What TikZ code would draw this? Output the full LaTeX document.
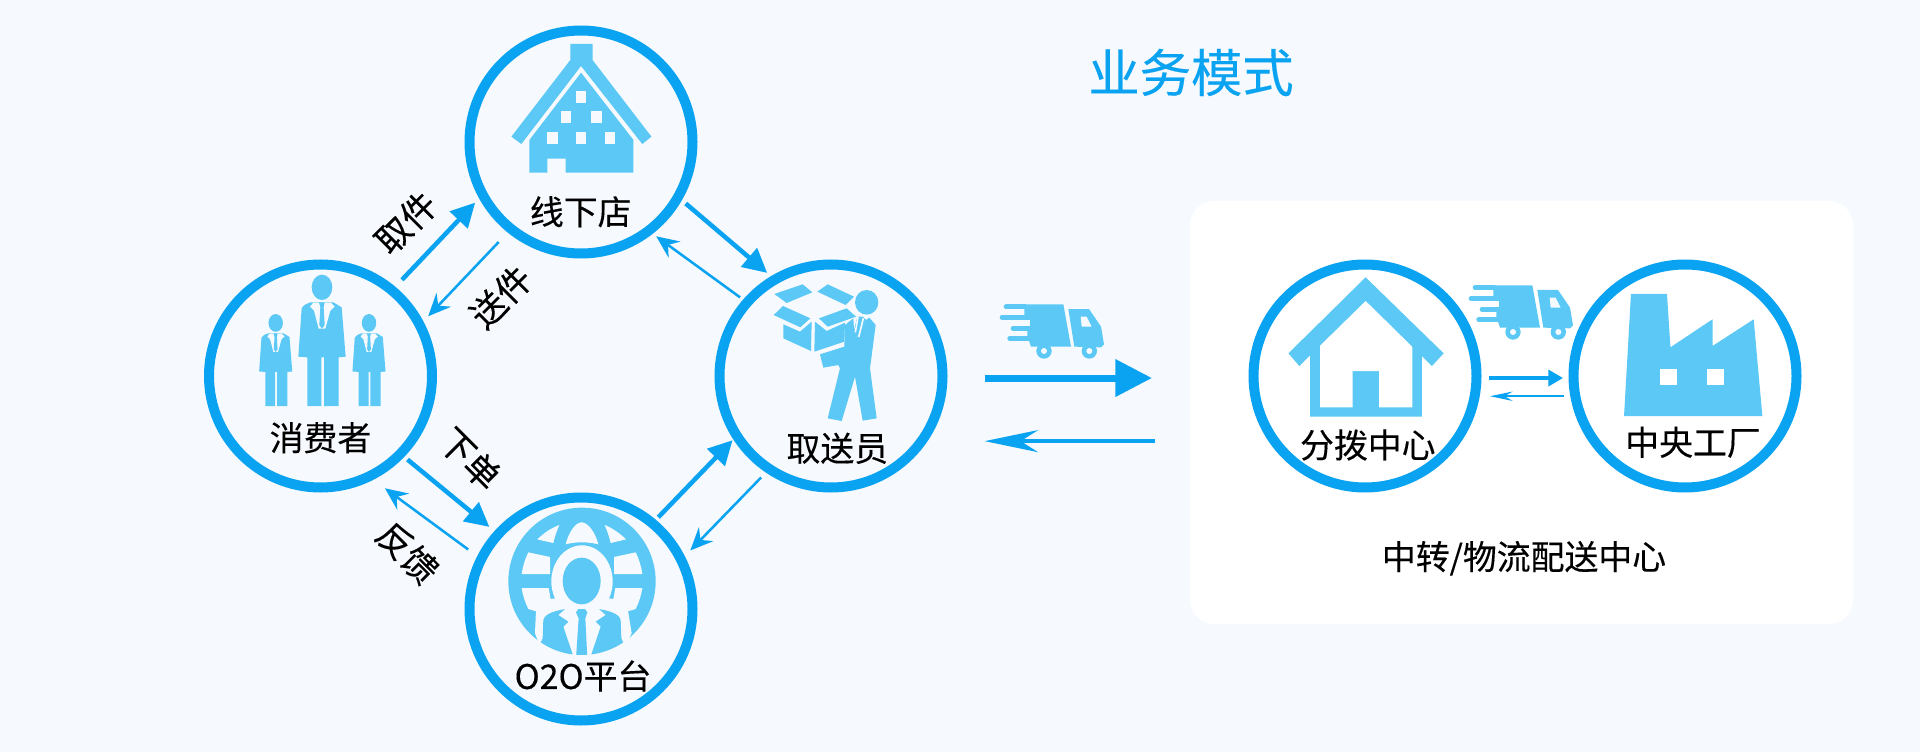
\documentclass[tikz,border=0pt]{standalone}
\usepackage{fontspec}
\setmainfont{Noto Sans CJK SC}[FakeBold=0.25]
\usetikzlibrary{arrows.meta}
\definecolor{bgc}{HTML}{F6FAFE}
\definecolor{ringc}{HTML}{0AA3F1}
\definecolor{iconc}{HTML}{5BC8F5}
\tikzset{
  ring/.style={circle,draw=ringc,line width=7.5pt,minimum size=167.25pt,inner sep=0pt,outer sep=3.75pt},
  lab/.style={font=\fontsize{25.4}{30}\selectfont,text=black,inner sep=0pt},
  rotlab/.style={font=\fontsize{26.2}{30}\selectfont,text=black,inner sep=0pt},
  thickarr/.style={draw=ringc,line width=3.4pt,-{Triangle[length=18pt,width=18pt,fill=ringc]}},
  thinarr/.style={draw=ringc,line width=1.9pt,-{Stealth[length=17pt,width=15pt,inset=6pt,fill=ringc]}},
}
\newcommand{\personicon}[3]{%
\begin{scope}[shift={(#1,#2)},x=#3pt,y=-#3pt,shift={(-216,-408)}]
  \fill[iconc] (216,52) ellipse [x radius=31,y radius=38];
  \fill[iconc] (155,115) .. controls (160,105) and (172,100) .. (182,97) -- (250,97) -- (275,112) -- (287,260) -- (266,262) -- (266,408) -- (222,408) -- (222,262) -- (214,262) -- (214,408) -- (172,408) -- (172,262) -- (145,260) -- cycle;
  \fill[bgc] (180,110) -- (190,98) -- (242,98) -- (254,110) -- (241,122) -- (226,176) -- (206,176) -- (192,122) -- cycle;
  \fill[iconc] (207,97) -- (224,97) -- (221,112) -- (224,165) -- (216,176) -- (208,165) -- (211,112) -- cycle;
\end{scope}}
\newcommand{\truckicon}[2]{%
\begin{scope}[shift={(#1,#2)},x=0.25pt,y=-0.25pt]
  \fill[iconc] (28,28) -- (145,28) -- (168,155) -- (48,155) -- (42,137) -- (37,137) -- (37,107) -- (45,107) -- (45,60) -- (28,60) -- cycle;
  \draw[iconc,line width=3.5pt,line cap=round] (-27,35) -- (30,35);
  \draw[iconc,line width=3.5pt,line cap=round] (-39,67) -- (50,67);
  \draw[iconc,line width=3.5pt,line cap=round] (-6,100) -- (50,100);
  \draw[iconc,line width=3.5pt,line cap=round] (-16,130) -- (50,130);
  \fill[iconc] (160,42) -- (222,42) -- (258,95) -- (267,148) -- (258,157) -- (178,155) -- cycle;
  \fill[bgc] (197,65) -- (215,65) -- (230,95) -- (200,95) -- cycle;
  \fill[iconc] (87,168) circle [radius=23];
  \fill[iconc] (223,168) circle [radius=23];
  \fill[bgc] (87,168) circle [radius=9];
  \fill[bgc] (223,168) circle [radius=9];
\end{scope}}
\begin{document}
\begin{tikzpicture}[x=0.75pt,y=-0.75pt]
\fill[bgc] (0,0) rectangle (1920,752);
\useasboundingbox (0,0) rectangle (1920,752);

% panel
\node[fill=white,rounded corners=18pt,minimum width=497.25pt,minimum height=317.25pt,inner sep=0pt,outer sep=0pt] (panel) at (1521.5,412.5) {};

% rings
\node[ring] (store) at (581,142) {};
\node[ring] (cust) at (320.5,376) {};
\node[ring] (courier) at (831,376) {};
\node[ring] (otwo) at (581,609) {};
\node[ring] (hub) at (1365,376) {};
\node[ring] (factory) at (1685,376) {};

% store icon
\begin{scope}[shift={(180,0)},x=0.287pt,y=-0.25pt]
  \fill[iconc] (1020,132) -- (1078,132) -- (1078,180) -- (1232,410) -- (1208,432) -- (1048,198) -- (892,432) -- (866,410) -- (1020,180) -- cycle;
  \fill[iconc] (1048,218) -- (1185,420) -- (1185,518) -- (1008,518) -- (1008,476) -- (960,476) -- (960,518) -- (913,518) -- (913,420) -- cycle;
  \fill[bgc] (1036,273) rectangle (1062,308);
  \fill[bgc] (996,333) rectangle (1023,368);
  \fill[bgc] (1075,333) rectangle (1102,368);
  \fill[bgc] (960,396) rectangle (987,431);
  \fill[bgc] (1035,396) rectangle (1060,431);
  \fill[bgc] (1111,396) rectangle (1138,431);
\end{scope}

% people
\personicon{322}{406}{0.25}
\personicon{275.7}{406}{0.175}
\personicon{369}{406}{0.175}

% O2O icon
\begin{scope}[shift={(500,505)},x=0.25pt,y=-0.25pt]
  \fill[iconc] (246,229) circle [radius=221];
  \fill[bgc] (197,118) .. controls (205,85) and (225,52) .. (245,52) .. controls (265,52) and (287,85) .. (295,118) .. controls (265,110) and (225,110) .. (197,118) -- cycle;
  \fill[bgc] (112,103) .. controls (130,85) and (155,68) .. (178,60) .. controls (170,78) and (164,96) .. (160,114) .. controls (143,110) and (127,107) .. (112,103) -- cycle;
  \fill[bgc] (378,103) .. controls (360,85) and (335,68) .. (314,60) .. controls (322,78) and (328,96) .. (332,114) .. controls (349,110) and (363,107) .. (378,103) -- cycle;
  \fill[bgc] (65,207) .. controls (68,185) and (75,162) .. (85,142) -- (150,156) -- (150,207) -- cycle;
  \fill[bgc] (427,207) .. controls (424,185) and (417,162) .. (407,142) -- (342,156) -- (342,207) -- cycle;
  \fill[bgc] (65,249) -- (146,249) -- (152,282) -- (165,280) -- (180,305) -- (125,316) -- (105,318) -- (85,312) .. controls (75,292) and (68,270) .. (65,249) -- cycle;
  \fill[bgc] (427,249) -- (346,249) -- (340,282) -- (327,280) -- (312,305) -- (367,316) -- (387,318) -- (407,312) .. controls (417,292) and (424,270) .. (427,249) -- cycle;
  % halo below the head
  \fill[bgc] (108,316) -- (180,295) -- (312,295) -- (384,316) -- (395,385) -- (360,455) -- (132,455) -- (105,385) -- cycle;
  \fill[bgc] (246,229) ellipse [x radius=92,y radius=108];
  \fill[iconc] (245,228) ellipse [x radius=57,y radius=70];
  \begin{scope}
    \clip (246,229) circle [radius=221];
    \fill[iconc] (128,400) -- (130,345) .. controls (135,325) and (165,318) .. (195,312) -- (175,330) -- (205,350) -- (190,365) -- (222,460) -- (100,460) -- cycle;
    \fill[iconc] (364,400) -- (362,345) .. controls (357,325) and (327,318) .. (297,312) -- (317,330) -- (287,350) -- (302,365) -- (270,460) -- (392,460) -- cycle;
    \fill[iconc] (228,322) -- (235,312) -- (255,312) -- (262,322) -- (256,340) -- (262,460) -- (228,460) -- (236,340) -- cycle;
  \end{scope}
\end{scope}

% courier icon
\begin{scope}[shift={(780,275)},x=0.25pt,y=-0.25pt]
  \fill[iconc] (-17,57) -- (68,28) -- (97,52) -- (20,84) -- cycle;
  \fill[iconc] (112,50) -- (143,28) -- (222,65) -- (197,90) -- cycle;
  \fill[iconc] (-19,120) -- (9,93) -- (91,130) -- (61,157) -- cycle;
  \fill[iconc] (117,130) -- (200,100) -- (228,125) -- (143,155) -- cycle;
  \fill[iconc] (10,148) -- (60,170) -- (95,140) -- (93,228) -- (10,190) -- cycle;
  \fill[iconc] (105,140) -- (140,168) -- (195,143) -- (193,200) -- (103,230) -- cycle;
  \fill[iconc] (260,82) ellipse [x radius=35,y radius=37];
  \fill[iconc] (195,150) -- (220,130) -- (222,165) -- (232,190) -- (258,135) -- (268,128) -- (287,150) -- (270,280) -- (290,430) -- (248,437) -- (225,305) -- (185,438) -- (143,430) -- (180,280) -- (175,270) -- (130,278) -- (120,238) -- (193,215) -- cycle;
  \fill[iconc] (232,125) -- (248,125) -- (258,135) -- (232,190) -- (222,165) -- cycle;
  \draw[bgc,line width=1.2pt] (234,125) -- (226,172);
  \draw[bgc,line width=1.2pt] (250,130) -- (236,186);
\end{scope}

% trucks
\truckicon{1015}{295}
\truckicon{1484}{276}

% hub icon
\begin{scope}[shift={(1190,190)},x=0.3252pt,y=-0.25pt]
  \fill[iconc] (277,480) -- (405,320) -- (535,480) -- (535,680) -- (277,680) -- cycle;
  \fill[white] (300,465) -- (405,332) -- (513,465) -- (513,652) -- (436,652) -- (436,543) -- (375,543) -- (375,652) -- (300,652) -- cycle;
  \fill[iconc] (405,262) -- (585,490) -- (558,528) -- (405,332) -- (252,528) -- (227,490) -- cycle;
\end{scope}

% factory icon
\begin{scope}[shift={(1190,190)},x=0.3252pt,y=-0.25pt]
  \fill[iconc] (1017,312) -- (1100,312) -- (1108,472) -- (1205,388) -- (1205,468) -- (1300,388) -- (1320,678) -- (1001,678) -- cycle;
  \fill[white] (1084,536) rectangle (1122,585);
  \fill[white] (1193,536) rectangle (1232,585);
\end{scope}

% connectors
\draw[thickarr,shorten <=7.2pt,shorten >=4.3pt] (cust.50.7) -- (store.209.2);
\draw[thinarr,shorten <=9.8pt,shorten >=5.2pt] (store.231.9) -- (cust.28.2);
\draw[thickarr,shorten <=3.75pt,shorten >=3.75pt] (store.330.3) -- (courier.121.1);
\draw[thinarr,shorten <=2.8pt,shorten >=3.2pt] (courier.139.4) -- (store.308.2);
\draw[thickarr,shorten <=3.1pt,shorten >=4.9pt] (cust.316.4) -- (otwo.138.8);
\draw[thinarr,shorten <=8.4pt,shorten >=10.7pt] (otwo.153.3) -- (cust.297.4);
\draw[thickarr,shorten <=2.6pt,shorten >=0.8pt] (otwo.50.2) -- (courier.213.4);
\draw[thinarr,shorten <=5.1pt,shorten >=5.9pt] (courier.236.6) -- (otwo.27.3);

\draw[draw=ringc,line width=5.25pt,-{Triangle[length=27.5pt,width=27pt,fill=ringc]},shorten <=28.1pt,shorten >=28.5pt] (courier.359) -- (panel.west |- courier.359);
\draw[draw=ringc,line width=3pt,-{Stealth[length=40pt,width=16.5pt,inset=13pt,fill=ringc]},shorten <=26.2pt,shorten >=42.8pt] (panel.west |- courier.326.7) -- (courier.326.7);
\draw[draw=ringc,line width=2.5pt,-{Triangle[length=11pt,width=12pt,fill=ringc]},shorten <=5.6pt,shorten >=4.1pt] (hub.359) -- (factory.west |- hub.359);
\draw[draw=ringc,line width=1.5pt,-{Stealth[length=17pt,width=7pt,inset=6pt,fill=ringc]},shorten <=3.4pt,shorten >=7.65pt] (factory.west |- hub.350.1) -- (hub.350.1);

% labels
\node[lab] (lstore) at (580.7,211.7) {线下店};
\node[lab] (lcust) at (320.5,437.7) {消费者};
\node[lab] (lotwo) at (583,676) {O2O平台};
\node[lab] (lcourier) at (837.3,448.3) {取送员};
\node[lab] (lhub) at (1367.8,445) {分拨中心};
\node[lab] (lfactory) at (1693,442.3) {中央工厂};
\node[lab] (lpanel) at (1524,558.3) {中转/物流配送中心};
\node[rotlab,rotate=45] (ltake) at (405.8,222.7) {取件};
\node[rotlab,rotate=45] (lsend) at (500.7,296.7) {送件};
\node[rotlab,rotate=-45] (lorder) at (470,458.7) {下单};
\node[rotlab,rotate=-45] (lfeed) at (407.7,552.7) {反馈};
\node[font=\fontsize{38.5}{46}\selectfont,text=ringc,inner sep=0pt] (ltitle) at (1191,72.5) {业务模式};
\end{tikzpicture}
\end{document}
